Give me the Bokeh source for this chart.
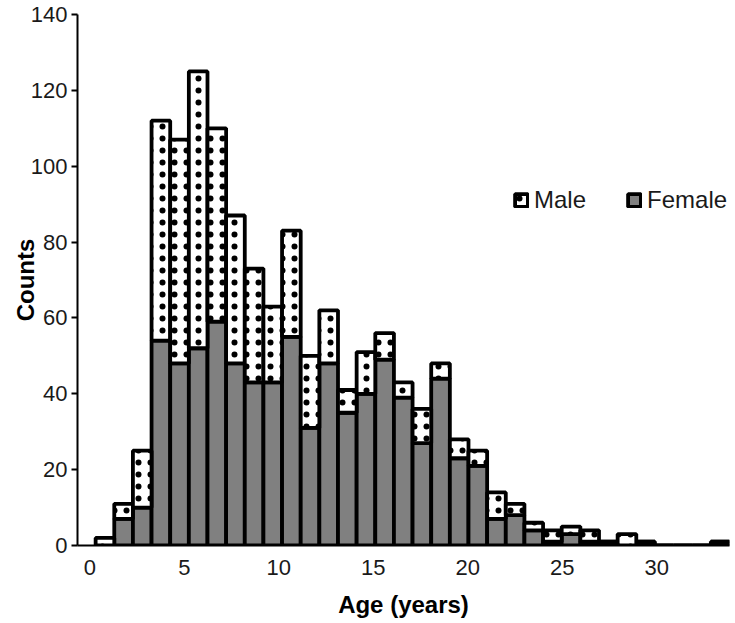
from bokeh.plotting import figure
from bokeh.models import Range1d, Legend, LegendItem, FixedTicker, ColumnDataSource
from bokeh.embed import file_html
from bokeh.resources import INLINE

# Histogram bins (age, years)
bin_start = 0.3
bin_width = 0.987
n_bins = 34

# Counts per bin
total_counts = [2, 11, 25, 112, 107, 125, 110, 87, 73, 63, 83, 50, 62, 41, 51, 56, 43,
                36, 48, 28, 25, 14, 11, 6, 4, 5, 4, 1, 3, 1, 0, 0, 0, 1]
female_counts = [0, 7, 10, 54, 48, 52, 59, 48, 43, 43, 55, 31, 48, 35, 40, 49, 39,
                 27, 44, 23, 21, 7, 8, 4, 1, 3, 1, 1, 0, 1, 0, 0, 0, 1]
male_counts = [t - f for t, f in zip(total_counts, female_counts)]

x_ticks = [0, 5, 10, 15, 20, 25, 30]
y_ticks = [0, 20, 40, 60, 80, 100, 120, 140]

left = [bin_start + i * bin_width for i in range(n_bins)]
right = [l + bin_width for l in left]

src = ColumnDataSource(dict(left=left, right=right, female=female_counts,
                            total=total_counts, male=male_counts,
                            zero=[0] * n_bins))

FONT = "Liberation Sans"

p = figure(width=735, height=623, output_backend="svg", toolbar_location=None,
           x_range=Range1d(-0.66, bin_start + n_bins * bin_width),
           y_range=Range1d(0, 140),
           min_border_left=77, min_border_right=6, min_border_top=14,
           min_border_bottom=78)

p.outline_line_color = None
p.xgrid.visible = False
p.ygrid.visible = False
p.background_fill_color = "white"
p.border_fill_color = "white"

fem = p.quad(left="left", right="right", bottom="zero", top="female", source=src,
             fill_color="#808080", line_color="black", line_width=3.8)
mal = p.quad(left="left", right="right", bottom="female", top="total", source=src,
             fill_color="white", line_color="black", line_width=3.8,
             hatch_pattern="dot", hatch_color="black", hatch_scale=12,
             hatch_weight=1)

for ax in (p.xaxis[0], p.yaxis[0]):
    ax.axis_line_width = 2
    ax.axis_line_color = "black"
    ax.major_tick_line_width = 2
    ax.major_tick_line_color = "black"
    ax.minor_tick_line_color = None
    ax.major_label_text_font = FONT
    ax.major_label_text_font_size = "22px"
    ax.major_label_text_color = "#1a1a1a"
    ax.axis_label_text_font = FONT
    ax.axis_label_text_font_size = "24px"
    ax.axis_label_text_font_style = "bold"
    ax.axis_label_text_color = "black"

p.xaxis.ticker = FixedTicker(ticks=x_ticks)
p.yaxis.ticker = FixedTicker(ticks=y_ticks)
p.xaxis.major_tick_out = 0
p.xaxis.major_tick_in = 0
p.yaxis.major_tick_out = 6
p.yaxis.major_tick_in = 0
p.xaxis.major_label_standoff = 14
p.yaxis.major_label_standoff = 4
p.xaxis.axis_label = "Age (years)"
p.yaxis.axis_label = "Counts"
p.xaxis.axis_label_standoff = 13
p.yaxis.axis_label_standoff = -11

legend = Legend(items=[LegendItem(label="Male", renderers=[mal]),
                       LegendItem(label="Female", renderers=[fem])],
                location=(436, 331), orientation="horizontal",
                padding=0, margin=0, spacing=40, label_standoff=5,
                glyph_width=16, glyph_height=16,
                border_line_color=None, background_fill_alpha=0,
                label_text_font=FONT, label_text_font_size="24px",
                label_text_color="#1a1a1a")
p.add_layout(legend)

open("out.html", "w").write(file_html(p, INLINE))
